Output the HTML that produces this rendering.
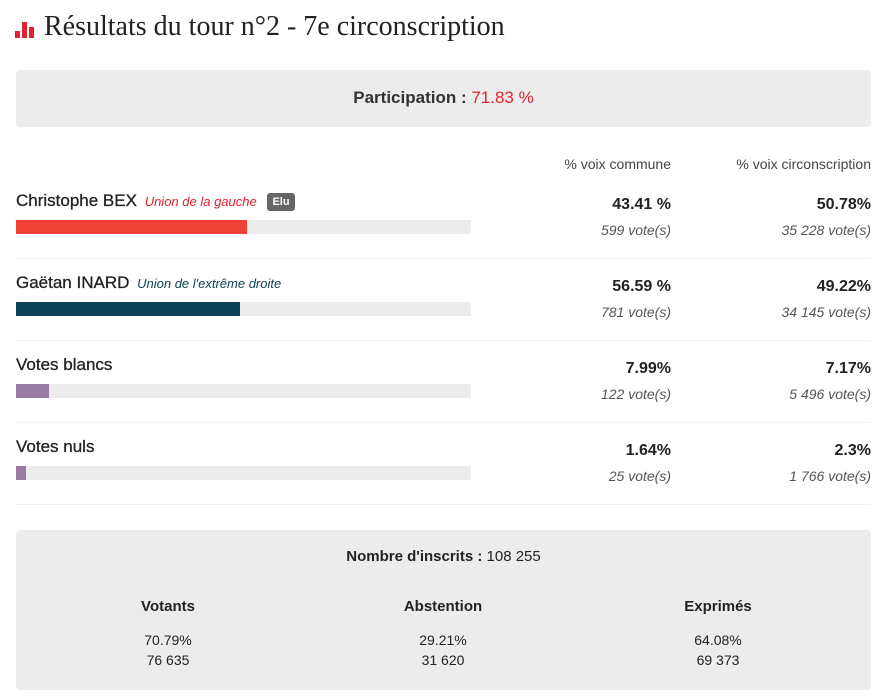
<!DOCTYPE html>
<html><head><meta charset="utf-8"><style>
body{margin:0;width:879px;height:700px;background:#fff;font-family:"Liberation Sans",sans-serif;color:#222;position:relative;overflow:hidden}
.a{position:absolute}
.title{left:44px;top:11px;font-family:"Liberation Serif",serif;font-size:28px;color:#222;white-space:nowrap}
.box{background:#ececec;border-radius:4px}
.track{left:16px;width:455px;height:14px;background:#ececec}
.fill{position:absolute;left:0;top:0;height:14px}
.name{left:16px;font-size:17px;white-space:nowrap;-webkit-text-stroke:0.3px #222}
.party{font-style:italic;font-size:13px;margin-left:3px;-webkit-text-stroke:0}
.pct{font-size:16px;font-weight:bold;text-align:right;white-space:nowrap}
.vt{font-size:14px;font-style:italic;color:#555;text-align:right;white-space:nowrap}
.sep{left:16px;width:855px;height:1px;background:#f0f0f0}
.hd{font-size:14px;color:#444;text-align:right;white-space:nowrap}
.c{text-align:center;font-size:14px;width:200px}
</style></head><body>
<svg class="a" style="left:15px;top:22px" width="22" height="16"><rect x="0" y="9" width="5" height="7" fill="#e3222f"/><rect x="7" y="0" width="5" height="16" fill="#e3222f"/><rect x="14" y="5" width="5" height="11" fill="#e3222f"/></svg>
<div class="a title">Résultats du tour n°2 - 7e circonscription</div>
<div class="a box" style="left:16px;top:70px;width:855px;height:57px"></div>
<div class="a" style="left:16px;width:855px;top:88px;text-align:center;font-size:17px;font-weight:bold;color:#333">Participation : <span style="color:#e3222f;font-weight:normal">71.83 %</span></div>
<div class="a hd" style="right:208px;top:156px">% voix commune</div>
<div class="a hd" style="right:8px;top:156px">% voix circonscription</div>
<div id="rows"></div>
<div class="a box" style="left:16px;top:530px;width:855px;height:160px"></div>
<div class="a" style="left:16px;width:855px;top:548px;text-align:center;font-size:15px"><b>Nombre d'inscrits :</b> 108 255</div>
<div class="a c" style="left:68px;top:598px"><b style="font-size:15px">Votants</b><div style="margin-top:15px;line-height:20px">70.79%<br>76 635</div></div>
<div class="a c" style="left:343px;top:598px"><b style="font-size:15px">Abstention</b><div style="margin-top:15px;line-height:20px">29.21%<br>31 620</div></div>
<div class="a c" style="left:618px;top:598px"><b style="font-size:15px">Exprimés</b><div style="margin-top:15px;line-height:20px">64.08%<br>69 373</div></div>
<script>
const names=["Christophe BEX","Gaëtan INARD","Votes blancs","Votes nuls"];
const parties=["Union de la gauche","Union de l'extrême droite","",""];
const communePct=["43.41 %","56.59 %","7.99%","1.64%"];
const communeVotes=["599 vote(s)","781 vote(s)","122 vote(s)","25 vote(s)"];
const circoValues=[50.78,49.22,7.17,2.3];
const circoPct=["50.78%","49.22%","7.17%","2.3%"];
const circoVotes=["35 228 vote(s)","34 145 vote(s)","5 496 vote(s)","1 766 vote(s)"];
const colors=["#ef4136","#0b4257","#967aa1","#967aa1"];
const partyColors=["#e3222f","#0b4257","",""];
const root=document.getElementById('rows');
function mk(cls,style,html){const d=document.createElement('div');d.className='a '+cls;d.style.cssText=style;if(html!=null)d.innerHTML=html;root.appendChild(d);return d;}
names.forEach((n,i)=>{
  const y=190+i*82;
  let h=n;
  if(parties[i])h+=' <span class="party" style="color:'+partyColors[i]+'">'+parties[i]+'</span>';
  if(i===0)h+=' <span style="display:inline-block;background:#666;color:#fff;font-size:11px;font-weight:bold;padding:3px 5px;border-radius:3px;margin-left:6px;vertical-align:1px;-webkit-text-stroke:0">Elu</span>';
  const nm=mk('name','top:'+(y+1)+'px',h);
  
  
  const tr=mk('track','top:'+(y+30)+'px');
  
  
  const f=document.createElement('div');f.className='fill';
  f.style.width=(455*circoValues[i]/100)+'px';f.style.background=colors[i];
  
  
  tr.appendChild(f);
  const p1=mk('pct','right:208px;top:'+(y+6)+'px',communePct[i]);
  
  
  const v1=mk('vt','right:208px;top:'+(y+32)+'px',communeVotes[i]);
  
  
  const p2=mk('pct','right:8px;top:'+(y+6)+'px',circoPct[i]);
  
  
  const v2=mk('vt','right:8px;top:'+(y+32)+'px',circoVotes[i]);
  
  
  const s=mk('sep','top:'+(y+68)+'px');
  
  
});
</script>
</body></html>
